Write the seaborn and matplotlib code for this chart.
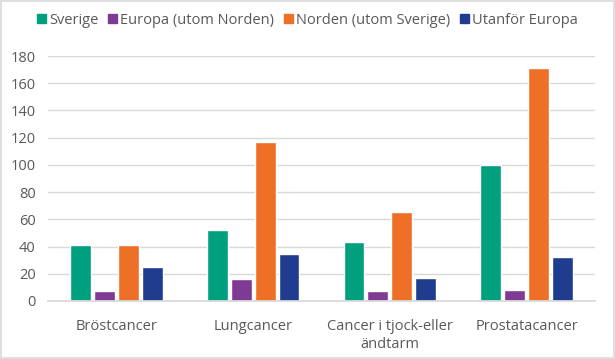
import matplotlib
matplotlib.use("Agg")
import matplotlib.pyplot as plt
import matplotlib.patches as mpatches
import seaborn as sns
import pandas as pd

categories = ["Bröstcancer", "Lungcancer", "Cancer i tjock-eller\nändtarm", "Prostatacancer"]
series_names = ["Sverige", "Europa (utom Norden)", "Norden (utom Sverige)", "Utanför Europa"]
sverige = [41, 52, 43.5, 100]
europa = [7.5, 16, 7.5, 8]
norden = [41, 116.5, 65.5, 171.5]
utanfor = [25, 34.5, 17, 32]
colors = ["#00A07F", "#7F3A93", "#EE7027", "#1F3C8F"]
yticks = [0, 20, 40, 60, 80, 100, 120, 140, 160, 180]

rows = []
for name, vals in zip(series_names, [sverige, europa, norden, utanfor]):
    for c, v in zip(categories, vals):
        rows.append({"Kategori": c, "Serie": name, "Värde": v})
df = pd.DataFrame(rows)

sns.set_theme(style="white")
plt.rcParams["font.family"] = ["Open Sans", "DejaVu Sans"]

fig = plt.figure(figsize=(6.15, 3.59), dpi=100)
ax = fig.add_axes([48/615, 58/359, 547/615, 245/359])

sns.barplot(data=df, x="Kategori", y="Värde", hue="Serie", order=categories,
            hue_order=series_names, palette=colors, width=0.7, gap=0.13,
            saturation=1, ax=ax, legend=False)

ax.set_ylim(0, 180)
ax.set_yticks(yticks)
ax.set_xlim(-0.5, 3.5)
ax.yaxis.grid(True, color="#D9D9D9", linewidth=1)
ax.set_axisbelow(True)
for s in ["top", "right", "left"]:
    ax.spines[s].set_visible(False)
ax.spines["bottom"].set_color("#D9D9D9")
ax.set_xlabel("")
ax.set_ylabel("")
ax.tick_params(axis="both", length=0, labelsize=10.5, colors="#595959")
ax.tick_params(axis="x", pad=13)
ax.tick_params(axis="y", pad=9)
for lbl in ax.get_xticklabels():
    lbl.set_linespacing(1.25)

handles = [mpatches.Patch(color=c, label=n) for c, n in zip(colors, series_names)]
fig.legend(handles=handles, loc="center", bbox_to_anchor=(0.5, 1 - 20/359), ncol=4,
           frameon=False, handlelength=0.6, handleheight=0.6, handletextpad=0.2,
           columnspacing=0.7, fontsize=10.5, labelcolor="#595959")

fig.add_artist(mpatches.Rectangle((0.001, 0.002), 0.997, 0.995, transform=fig.transFigure,
                                  fill=False, edgecolor="#D9D9D9", linewidth=1.2))

fig.savefig("out.png", dpi=100)
